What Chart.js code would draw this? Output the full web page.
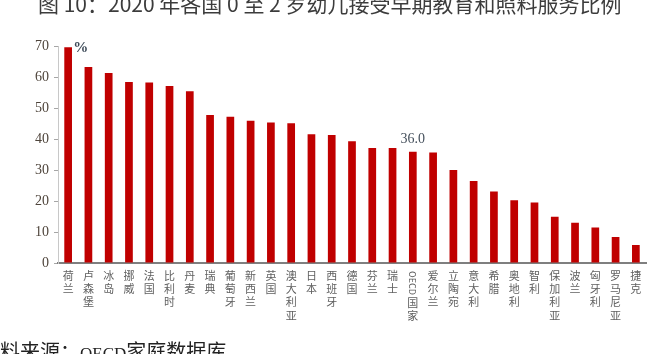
<!DOCTYPE html>
<html>
<head>
<meta charset="utf-8">
<script src="https://cdn.jsdelivr.net/npm/chart.js@4/dist/chart.umd.min.js"></script>
<style>
    html, body { margin: 0; padding: 0; background: #fff; overflow: hidden; }
    #wrap { position: relative; width: 664px; height: 354px; }
    #titulo { position: absolute; left: 38px; top: -9px; font: 21px "Noto Sans CJK SC"; color: #3c3c3c; white-space: nowrap; line-height: 1.2; }
    #fuente { position: absolute; left: -20px; top: 339px; font: 20px "Noto Sans CJK SC"; color: #222; white-space: nowrap; line-height: 1.2; }
    #fuente span { font: 17px "Liberation Serif"; }
</style>
</head>
<body>
<div id="wrap">
    <canvas id="grafico" width="664" height="354"></canvas>
    <div id="titulo">图 10：2020 年各国 0 至 2 岁幼儿接受早期教育和照料服务比例</div>
    <div id="fuente">资料来源：<span>OECD</span>家庭数据库</div>
</div>
<script>
// Datos del gráfico
const paises = ["荷兰", "卢森堡", "冰岛", "挪威", "法国", "比利时", "丹麦", "瑞典", "葡萄牙", "新西兰",
    "英国", "澳大利亚", "日本", "西班牙", "德国", "芬兰", "瑞士", "OECD国家", "爱尔兰", "立陶宛",
    "意大利", "希腊", "奥地利", "智利", "保加利亚", "波兰", "匈牙利", "罗马尼亚", "捷克"];
const valores = [69.8, 63.4, 61.5, 58.6, 58.4, 57.3, 55.6, 47.9, 47.3, 46.0,
    45.5, 45.2, 41.7, 41.4, 39.4, 37.2, 37.2, 36.0, 35.8, 30.1,
    26.5, 23.1, 20.3, 19.6, 15.0, 13.0, 11.5, 8.4, 5.8];
const ticksY = [0, 10, 20, 30, 40, 50, 60, 70];
const unidad = "%";
const etiquetaDestacada = { indice: 17, texto: "36.0" };

// Plugin que dibuja las etiquetas verticales del eje X, la unidad y el valor destacado
const textosExtra = {
    id: "textosExtra",
    afterDraw(chart) {
        const ctx = chart.ctx;
        const x = chart.scales.x;
        const y = chart.scales.y;
        const area = chart.chartArea;

        ctx.save();
        ctx.fillStyle = "#5f5f5f";
        ctx.font = '11px "Noto Sans CJK SC"';
        ctx.textAlign = "center";
        ctx.textBaseline = "top";
        paises.forEach((nombre, i) => {
            const px = x.getPixelForValue(i);
            let py = area.bottom + 7;
            const partes = nombre.match(/[A-Za-z]+|./g);
            partes.forEach(p => {
                if (/^[A-Za-z]+$/.test(p)) {
                    // Texto latino girado como en la composición vertical
                    ctx.save();
                    ctx.font = '9px "Noto Sans CJK SC"';
                    const w = ctx.measureText(p).width;
                    ctx.translate(px, py + 1 + w / 2);
                    ctx.rotate(Math.PI / 2);
                    ctx.textBaseline = "middle";
                    ctx.fillText(p, 0, 0);
                    ctx.restore();
                    py += w + 3;
                } else {
                    ctx.fillText(p, px, py);
                    py += 13.4;
                }
            });
        });

        // Unidad junto a la primera barra
        ctx.fillStyle = "#3d4a58";
        ctx.font = 'bold 15px "Liberation Serif"';
        ctx.textAlign = "left";
        ctx.textBaseline = "middle";
        ctx.fillText(unidad, x.getPixelForValue(0) + 5, y.getPixelForValue(70) + 1);

        // Valor destacado sobre la barra OECD
        ctx.fillStyle = "#45505c";
        ctx.font = '14px "Liberation Serif"';
        ctx.textAlign = "center";
        ctx.textBaseline = "alphabetic";
        const i = etiquetaDestacada.indice;
        ctx.fillText(etiquetaDestacada.texto, x.getPixelForValue(i), y.getPixelForValue(valores[i]) - 9);
        ctx.restore();
    }
};

const ctx = document.getElementById("grafico").getContext("2d");

new Chart(ctx, {
    type: "bar",
    data: {
        labels: paises,
        datasets: [{
            data: valores,
            backgroundColor: "#C00000",
            barPercentage: 0.38,
            categoryPercentage: 1
        }]
    },
    options: {
        responsive: false,
        animation: false,
        layout: { padding: { top: 46.7, right: 18, left: 0, bottom: 0 } },
        plugins: {
            legend: { display: false },
            tooltip: { enabled: false }
        },
        scales: {
            x: {
                grid: { display: false },
                ticks: { display: false },
                border: { color: "#7f7f7f", width: 2 },
                afterFit: s => { s.height = 91; }
            },
            y: {
                min: 0,
                max: 70,
                afterBuildTicks: s => { s.ticks = ticksY.map(v => ({ value: v })); },
                afterFit: s => { s.width = 58; },
                grid: { drawOnChartArea: false, drawTicks: true, tickLength: 4, tickColor: "#a6a6a6" },
                border: { color: "#c8c8c8", width: 1 },
                ticks: {
                    padding: 5,
                    color: "#4e443b",
                    font: { family: "Liberation Serif", size: 14 }
                }
            }
        }
    },
    plugins: [textosExtra]
});
</script>
</body>
</html>
